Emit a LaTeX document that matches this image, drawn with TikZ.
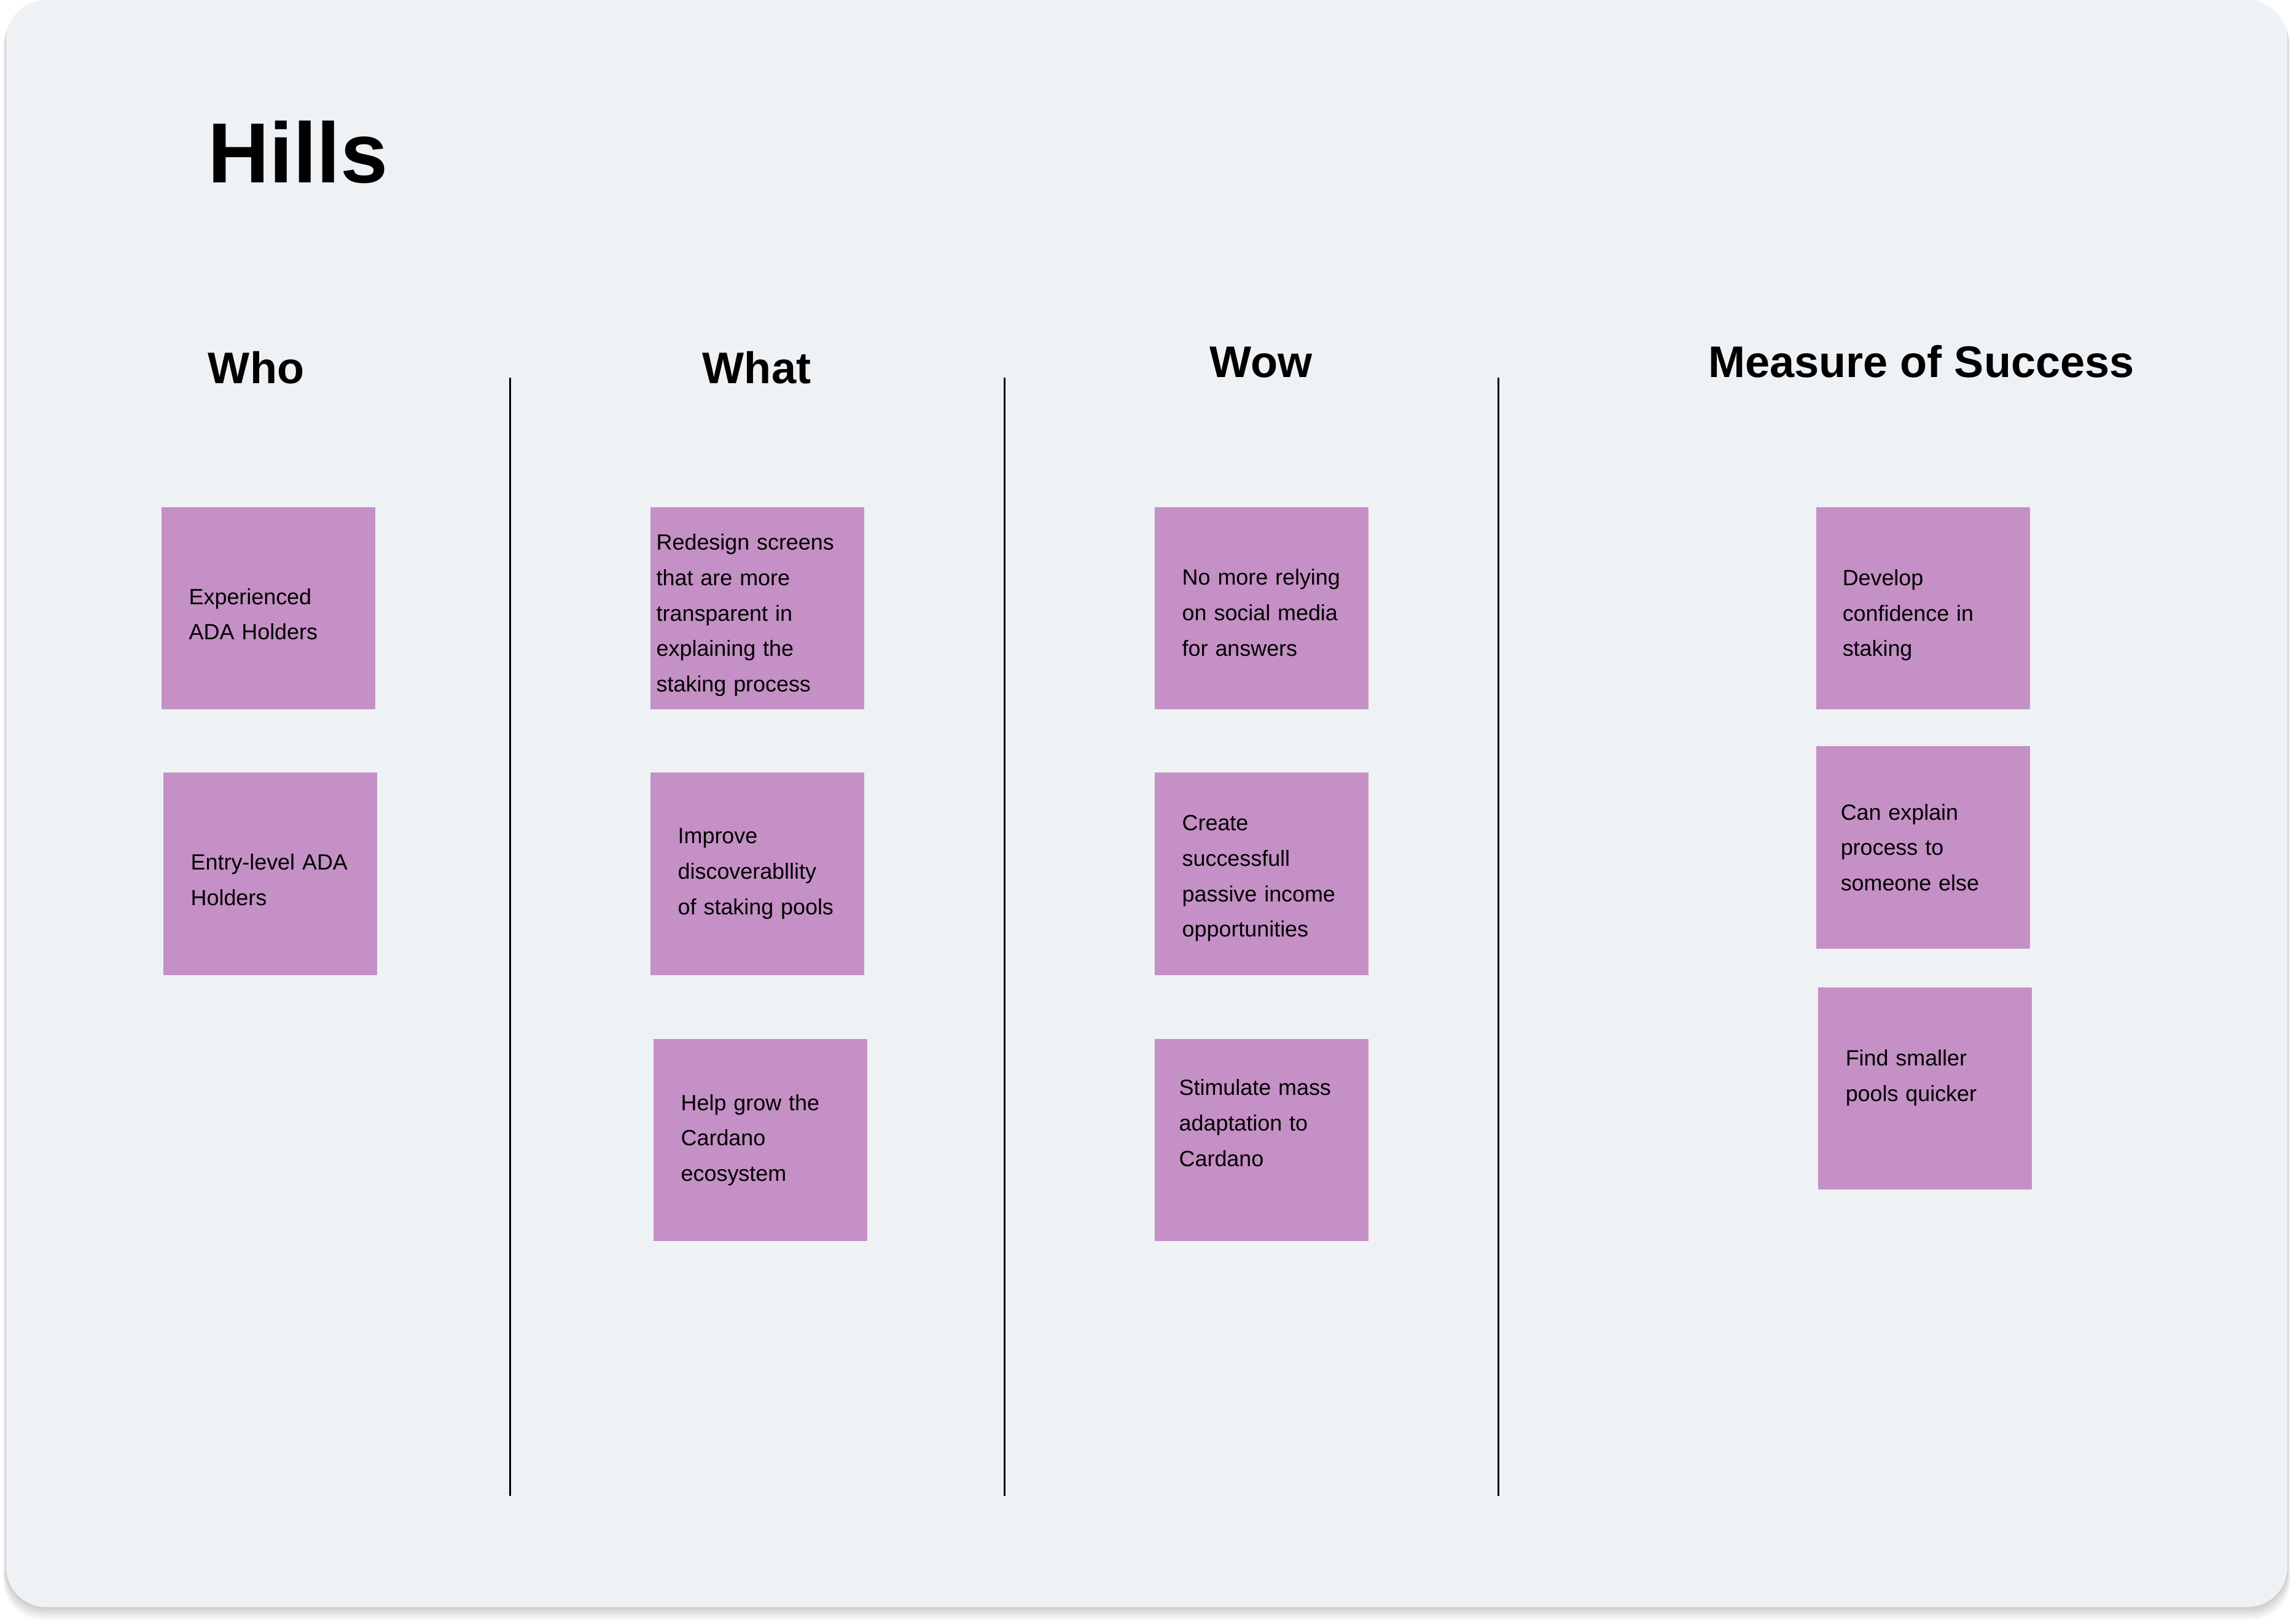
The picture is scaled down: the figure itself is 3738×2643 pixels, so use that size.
\documentclass[tikz,border=0pt]{standalone}
\usepackage{fontspec}
\setmainfont{Liberation Sans}
\usepackage{xcolor}
\usepackage{tikz}
\usetikzlibrary{positioning}

\definecolor{board}{RGB}{239,242,245}
\definecolor{sticky}{RGB}{196,144,197}

\begin{document}
\begin{tikzpicture}[x=0.01cm,y=-0.01cm,
                    note/.style={fill=sticky,minimum height=3.29cm,text width=2.58cm,
                                 inner xsep=0.45cm,inner ysep=0pt,align=left,
                                 font=\fontsize{10.2}{16.4}\selectfont},
                    sink/.style={execute at begin node={\rule{0pt}{#1}}},
                    lift/.style={execute at end node={\rule[-#1]{0pt}{#1}}},
                    head/.style={anchor=base,font=\fontsize{20.5}{24}\selectfont\bfseries},
                    sep/.style={line width=0.85pt}]

    \useasboundingbox[fill=white] (0,0) rectangle (3738,2643);

    % board with a soft shadow
    \foreach \s in {1,...,8}
        \fill[black,opacity=0.025,rounded corners=0.65cm]
            (10-\s*0.6,\s*1.5) rectangle (3724+\s*0.6,2617+\s*2.6);
    \fill[board,rounded corners=0.65cm] (10,0) rectangle (3724,2617);

    \node[anchor=base west,font=\fontsize{39.5}{48}\selectfont\bfseries] (hills) at (326,298) {Hills};

    \node[head] (who)  at (417,625)  {Who};
    \node[head] (what) at (1232,625) {What};
    \node[head] (wow)  at (2053,615) {Wow};
    \node[head] (meas) at (3128,615) {Measure of Success};

    \draw[sep] (830,615) -- (830,2436);
    \draw[sep] (1635,615) -- (1635,2436);
    \draw[sep] (2439,615) -- (2439,2436);

    \node[note,sink=13pt,anchor=north west] (exper) at (262,825) {Experienced\\ADA Holders};
    \node[note,sink=13pt,below=1.02cm of exper,xshift=0.03cm] (entry) {Entry-level ADA\\Holders};

    \node[note,sink=14pt,anchor=north west,inner xsep=0.1cm,text width=3.28cm] (redes) at (1058,825)
        {Redesign screens\\that are more\\transparent in\\explaining the\\staking process};
    \node[note,below=1.02cm of redes] (impr) {Improve\\discoverabllity\\of staking pools};
    \node[note,below=1.03cm of impr,xshift=0.05cm] (grow) {Help grow the\\Cardano\\ecosystem};

    \node[note,sink=11.5pt,anchor=north west] (soc) at (1879,825) {No more relying\\on social media\\for answers};
    \node[note,sink=11.5pt,below=1.02cm of soc] (inc) {Create\\successfull\\passive income\\opportunities};
    \node[note,lift=16pt,below=1.03cm of inc,inner xsep=0.4cm,text width=2.68cm] (mass)
        {Stimulate mass\\adaptation to\\Cardano};

    \node[note,sink=14pt,anchor=north west,inner xsep=0.43cm,text width=2.62cm] (conf) at (2956,825)
        {Develop\\confidence in\\staking};
    \node[note,below=0.59cm of conf,inner xsep=0.4cm,text width=2.68cm] (expl)
        {Can explain\\process to\\someone else};
    \node[note,lift=12pt,below=0.62cm of expl,xshift=0.03cm] (find) {Find smaller\\pools quicker};
\end{tikzpicture}
\end{document}
